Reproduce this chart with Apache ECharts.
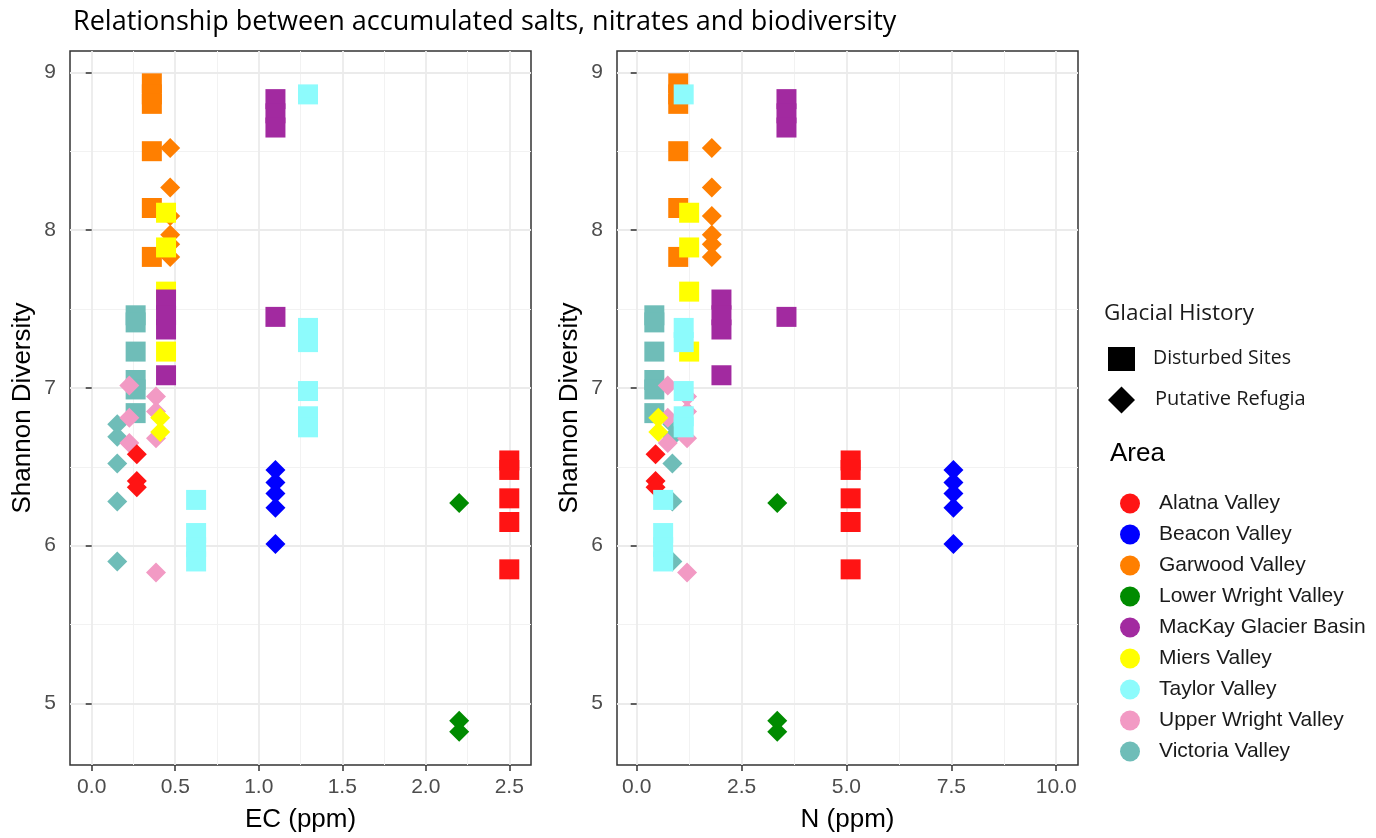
<!DOCTYPE html>
<html>
<head>
<meta charset="utf-8">
<script src="https://cdn.jsdelivr.net/npm/echarts@6/dist/echarts.min.js"></script>
<style>
html,body{margin:0;padding:0;background:#fff;}
#chart{width:1376px;height:838px;}
</style>
</head>
<body>
<div id="chart"></div>
<script>
// ---- data: [EC (ppm), N (ppm), Shannon diversity, glacial history D=Disturbed / R=Refugia]
const alatna = [[2.50,5.10,6.54,'D'],[2.50,5.10,6.48,'D'],[2.50,5.10,6.30,'D'],[2.50,5.10,6.15,'D'],[2.50,5.10,5.85,'D'],
  [0.27,0.45,6.58,'R'],[0.27,0.45,6.41,'R'],[0.27,0.45,6.37,'R']];
const beacon = [[1.10,7.55,6.48,'R'],[1.10,7.55,6.40,'R'],[1.10,7.55,6.33,'R'],[1.10,7.55,6.24,'R'],[1.10,7.55,6.01,'R']];
const garwood = [[0.36,0.99,8.93,'D'],[0.36,0.99,8.86,'D'],[0.36,0.99,8.80,'D'],[0.36,0.99,8.50,'D'],[0.36,0.99,8.14,'D'],[0.36,0.99,7.83,'D'],
  [0.47,1.79,8.52,'R'],[0.47,1.79,8.27,'R'],[0.47,1.79,8.09,'R'],[0.47,1.79,7.97,'R'],[0.47,1.79,7.91,'R'],[0.47,1.79,7.83,'R']];
const lowerWright = [[2.20,3.35,6.27,'R'],[2.20,3.35,4.89,'R'],[2.20,3.35,4.82,'R']];
const mackay = [[1.10,3.57,8.83,'D'],[1.10,3.57,8.74,'D'],[1.10,3.57,8.65,'D'],[1.10,3.57,7.45,'D'],
  [0.445,2.02,7.56,'D'],[0.445,2.02,7.46,'D'],[0.445,2.02,7.37,'D'],[0.445,2.02,7.08,'D']];
const miers = [[0.445,1.25,8.11,'D'],[0.445,1.25,7.89,'D'],[0.445,1.25,7.61,'D'],[0.445,1.25,7.23,'D'],
  [0.41,0.515,6.81,'R'],[0.41,0.515,6.72,'R']];
const taylor = [[1.295,1.12,8.86,'D'],[1.295,1.12,7.38,'D'],[1.295,1.12,7.29,'D'],[1.295,1.12,6.98,'D'],[1.295,1.12,6.82,'D'],[1.295,1.12,6.75,'D'],
  [0.625,0.63,6.29,'D'],[0.625,0.63,6.08,'D'],[0.625,0.63,5.99,'D'],[0.625,0.63,5.90,'D']];
const upperWright = [[0.225,0.74,7.015,'R'],[0.225,0.74,6.81,'R'],[0.225,0.74,6.65,'R'],
  [0.385,1.20,6.945,'R'],[0.385,1.20,6.85,'R'],[0.385,1.20,6.68,'R'],[0.385,1.20,5.83,'R']];
const victoria = [[0.263,0.42,7.46,'D'],[0.263,0.42,7.415,'D'],[0.263,0.42,7.23,'D'],[0.263,0.42,7.05,'D'],[0.263,0.42,6.99,'D'],[0.263,0.42,6.84,'D'],
  [0.153,0.85,6.77,'R'],[0.153,0.85,6.69,'R'],[0.153,0.85,6.52,'R'],[0.153,0.85,6.28,'R'],[0.153,0.85,5.90,'R']];

const legendAreas = ['Alatna Valley','Beacon Valley','Garwood Valley','Lower Wright Valley','MacKay Glacier Basin','Miers Valley','Taylor Valley','Upper Wright Valley','Victoria Valley'];
const areaColors = {'Alatna Valley':'#FF1414','Beacon Valley':'#0000FF','Garwood Valley':'#FF7F00','Lower Wright Valley':'#008B00',
  'MacKay Glacier Basin':'#A22AA0','Miers Valley':'#FFFF00','Taylor Valley':'#8DFBFC','Upper Wright Valley':'#F29AC4','Victoria Valley':'#6FBDB8'};
// drawing order (later drawn on top)
const drawOrder = [['Victoria Valley',victoria],['Upper Wright Valley',upperWright],['Alatna Valley',alatna],['Garwood Valley',garwood],
  ['Miers Valley',miers],['MacKay Glacier Basin',mackay],['Taylor Valley',taylor],['Beacon Valley',beacon],['Lower Wright Valley',lowerWright]];

const ecTicks = [0,0.5,1,1.5,2,2.5];
const ecMinor = [0.25,0.75,1.25,1.75,2.25];
const nTicks = [0,2.5,5,7.5,10];
const nMinor = [1.25,3.75,6.25,8.75];
const yTicks = [5,6,7,8,9];
const yMinor = [5.5,6.5,7.5,8.5];

const chart = echarts.init(document.getElementById('chart'), null, {renderer:'canvas'});

const tickColor = '#333333';
const labelFont = 'Liberation Sans';
function xAxisCfg(g, min, max, ticks, name, digits){
  return {
    type:'value', gridIndex:g, min:min, max:max,
    name:name, nameLocation:'middle', nameGap:42,
    nameTextStyle:{fontFamily:labelFont, fontSize:26, color:'#000'},
    axisLine:{show:false},
    axisTick:{show:true, length:6, lineStyle:{color:tickColor, width:1.5}, customValues:ticks},
    axisLabel:{show:true, customValues:ticks, margin:12, fontFamily:labelFont, fontSize:21, color:'#4D4D4D',
      formatter:(v)=>Number(v).toFixed(digits)},
    splitLine:{show:false}
  };
}
function yAxisCfg(g){
  return {
    type:'value', gridIndex:g, min:4.61, max:9.135,
    name:'Shannon Diversity', nameLocation:'middle', nameGap:34, nameRotate:90,
    nameTextStyle:{fontFamily:labelFont, fontSize:26, color:'#000'},
    axisLine:{show:false},
    axisTick:{show:true, length:6, lineStyle:{color:tickColor, width:1.5}, customValues:yTicks},
    axisLabel:{show:true, customValues:yTicks, margin:14, fontFamily:labelFont, fontSize:21, color:'#4D4D4D',
      formatter:(v)=>String(Math.round(v))},
    splitLine:{show:false}
  };
}

function gridLineSeries(g, xMajor, xMinorV){
  const major = {color:'#EBEBEB', width:1.8, type:'solid'};
  const minor = {color:'#F2F2F2', width:1, type:'solid'};
  const d = [];
  xMinorV.forEach(v=>d.push({xAxis:v, lineStyle:minor}));
  yMinor.forEach(v=>d.push({yAxis:v, lineStyle:minor}));
  xMajor.forEach(v=>d.push({xAxis:v, lineStyle:major}));
  yTicks.forEach(v=>d.push({yAxis:v, lineStyle:major}));
  return {
    type:'scatter', xAxisIndex:g, yAxisIndex:g, data:[], silent:true, z:0,
    markLine:{silent:true, z:0, symbol:['none','none'], label:{show:false}, animation:false, data:d, emphasis:{disabled:true}}
  };
}

const series = [gridLineSeries(0, ecTicks, ecMinor), gridLineSeries(1, nTicks, nMinor)];
drawOrder.forEach(([name, rows])=>{
  [0,1].forEach(g=>{
    series.push({
      type:'scatter', name:name, xAxisIndex:g, yAxisIndex:g, z:6,
      itemStyle:{color:areaColors[name], opacity:1, borderWidth:0, borderColor:areaColors[name]},
      emphasis:{disabled:true},
      animation:false,
      data: rows.map(r=>({
        value:[g===0 ? r[0] : r[1], r[2]],
        symbol: r[3]==='D' ? 'rect' : 'diamond',
        symbolSize: 20
      }))
    });
  });
});

const option = {
  backgroundColor:'#fff',
  animation:false,
  title:{text:'Relationship between accumulated salts, nitrates and biodiversity', left:68, top:4,
    textStyle:{fontFamily:'Open Sans', fontSize:27, fontWeight:'normal', color:'#000'}},
  grid:[
    {left:70, top:51, width:461, height:717, show:true, borderColor:'#333', borderWidth:1.5, backgroundColor:'transparent', containLabel:false},
    {left:617, top:51, width:461, height:717, show:true, borderColor:'#333', borderWidth:1.5, backgroundColor:'transparent', containLabel:false}
  ],
  xAxis:[xAxisCfg(0,-0.13,2.63,ecTicks,'EC (ppm)',1), xAxisCfg(1,-0.47,10.52,nTicks,'N (ppm)',1)],
  yAxis:[yAxisCfg(0), yAxisCfg(1)],
  legend:{
    data:legendAreas.map(n=>({name:n, icon:'circle'})),
    orient:'vertical', left:1115, top:488, itemWidth:20, itemHeight:20, itemGap:10,
    selectedMode:false,
    textStyle:{fontFamily:labelFont, fontSize:21, color:'#1a1a1a', padding:[0,0,0,14]}
  },
  graphic:[
    {type:'text', left:1104, top:302, style:{text:'Glacial History', font:'22.5px "Open Sans"', fill:'#1a1a1a'}},
    {type:'rect', shape:{x:1108, y:347, width:27, height:24}, style:{fill:'#000'}},
    {type:'text', left:1153, top:348, style:{text:'Disturbed Sites', font:'19.5px "Open Sans"', fill:'#1a1a1a'}},
    {type:'polygon', shape:{points:[[1121.5,386.5],[1135,400],[1121.5,413.5],[1108,400]]}, style:{fill:'#000'}},
    {type:'text', left:1155, top:389, style:{text:'Putative Refugia', font:'20px "Open Sans"', fill:'#1a1a1a'}},
    {type:'text', left:1110, top:441, style:{text:'Area', font:'26px "Liberation Sans"', fill:'#000'}}
  ],
  series:series
};
chart.setOption(option);
</script>
</body>
</html>
